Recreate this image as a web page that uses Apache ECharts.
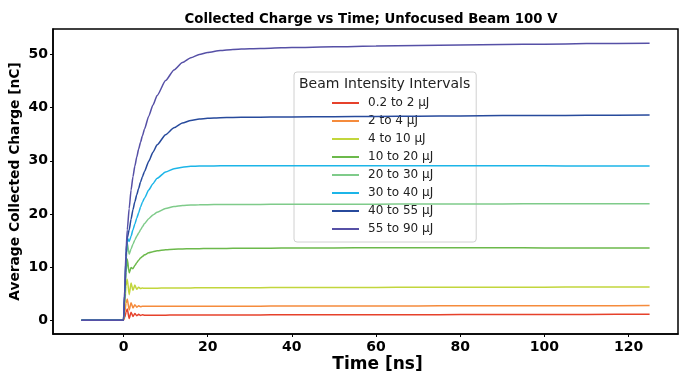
<!DOCTYPE html>
<html>
<head>
<meta charset="utf-8">
<script src="https://cdn.jsdelivr.net/npm/echarts@6/dist/echarts.min.js"></script>
<style>html,body{margin:0;padding:0;background:#fff;}#c{width:682px;height:373px;}</style>
</head>
<body>
<div id="c"></div>
<script>
// ---- data ----
const times = [-10, 0, 0.3, 0.6, 0.9, 1.35, 1.8, 2.25, 2.7, 3.15, 3.6, 4.05, 4.5, 5, 6, 7, 8, 10, 12, 14, 16, 18, 20, 23, 26, 30, 35, 40, 50, 60, 70, 80, 90, 100, 110, 125];
const seriesNames = ['0.2 to 2 μJ', '2 to 4 μJ', '4 to 10 μJ', '10 to 20 μJ', '20 to 30 μJ', '30 to 40 μJ', '40 to 55 μJ', '55 to 90 μJ'];
const v_02_2 = [0, 0, 0.5, 1.5, 2.1, 0.3, 1.5, 0.7, 1.25, 0.85, 1.1, 0.9, 1.0, 0.95, 0.95, 0.95, 0.95, 0.95, 0.96, 0.96, 0.97, 0.97, 0.97, 0.98, 0.98, 0.99, 1.0, 1.0, 1.02, 1.03, 1.04, 1.05, 1.06, 1.08, 1.09, 1.1];
const v_2_4 = [0, 0, 1.5, 3.2, 4.0, 1.9, 3.3, 2.3, 2.9, 2.45, 2.7, 2.55, 2.62, 2.6, 2.6, 2.6, 2.6, 2.6, 2.61, 2.61, 2.62, 2.62, 2.62, 2.63, 2.63, 2.64, 2.65, 2.66, 2.67, 2.68, 2.69, 2.7, 2.71, 2.72, 2.73, 2.75];
const v_4_10 = [0, 0, 3, 6.5, 7.7, 4.8, 7.0, 5.6, 6.6, 5.8, 6.2, 5.95, 6.05, 6.0, 6.0, 6.02, 6.03, 6.05, 6.06, 6.07, 6.08, 6.09, 6.1, 6.1, 6.11, 6.12, 6.13, 6.14, 6.15, 6.17, 6.18, 6.19, 6.2, 6.22, 6.23, 6.25];
const v_10_20 = [0, 0, 4, 9, 11.5, 8.9, 9.9, 9.7, 10.3, 10.8, 11.3, 11.7, 12.0, 12.3, 12.7, 12.9, 13.05, 13.25, 13.35, 13.4, 13.45, 13.45, 13.5, 13.5, 13.52, 13.55, 13.55, 13.6, 13.6, 13.62, 13.62, 13.65, 13.62, 13.6, 13.6, 13.6];
const v_20_30 = [0, 0, 5, 11, 14.5, 12.4, 13.4, 14.3, 15.1, 15.8, 16.4, 17.0, 17.6, 18.2, 19.1, 19.8, 20.3, 21.0, 21.4, 21.6, 21.68, 21.72, 21.74, 21.76, 21.77, 21.78, 21.8, 21.8, 21.82, 21.84, 21.85, 21.86, 21.88, 21.9, 21.9, 21.9];
const v_30_40 = [0, 0, 5, 12, 15.5, 14.8, 15.8, 17.0, 18.1, 19.2, 20.2, 21.3, 22.2, 23.0, 24.5, 25.7, 26.7, 27.9, 28.5, 28.8, 28.95, 29.0, 29.03, 29.05, 29.05, 29.05, 29.05, 29.05, 29.05, 29.06, 29.06, 29.06, 29.05, 29.05, 29.03, 29.0];
const v_40_55 = [0, 0, 5, 12, 15.5, 17.0, 19.0, 20.8, 22.3, 23.6, 24.8, 26.0, 27.0, 28.0, 29.9, 31.6, 33.0, 34.9, 36.2, 37.1, 37.6, 37.85, 38.0, 38.1, 38.15, 38.2, 38.22, 38.25, 38.3, 38.35, 38.4, 38.45, 38.5, 38.5, 38.55, 38.6];
const v_55_90 = [0, 0, 6, 13, 17, 21, 24.5, 27, 29, 30.7, 32.2, 33.5, 34.7, 36.0, 38.4, 40.5, 42.3, 45.1, 47.1, 48.5, 49.4, 50.0, 50.4, 50.75, 50.95, 51.1, 51.2, 51.3, 51.45, 51.6, 51.7, 51.8, 51.9, 51.95, 52.05, 52.1];
const xTicks = [0, 20, 40, 60, 80, 100, 120];
const yTicks = [0, 10, 20, 30, 40, 50];
const colors = ['#e6412b', '#f58b3c', '#c2d63c', '#6cb94b', '#7fcb8a', '#1cb5e8', '#274a9c', '#5650a6'];
const allValues = [v_02_2, v_2_4, v_4_10, v_10_20, v_20_30, v_30_40, v_40_55, v_55_90];

const FONT = '"DejaVu Sans", sans-serif';
const chart = echarts.init(document.getElementById('c'), null, {renderer: 'canvas'});
const series = allValues.map((vals, i) => ({
  name: seriesNames[i],
  type: 'line',
  showSymbol: false,
  symbol: 'none',
  smooth: 0.2,
  smoothMonotone: 'x',
  lineStyle: {width: 1.5, color: colors[i]},
  itemStyle: {color: colors[i]},
  z: 2 + i,
  data: times.map((t, k) => [t, vals[k]])
}));

chart.setOption({
  animation: false,
  backgroundColor: '#fff',
  title: [
    {text: 'Collected Charge vs Time; Unfocused Beam 100 V', left: 366, top: 8, textAlign: 'center',
     textStyle: {fontFamily: FONT, fontWeight: 'bold', fontSize: 13.3, color: '#000'}},
    {text: 'Beam Intensity Intervals', left: 294, top: 72, z: 10,
     textStyle: {fontFamily: FONT, fontWeight: 'normal', fontSize: 14, color: '#222'}}
  ],
  grid: {left: 53, right: 4, top: 29, bottom: 39, outerBoundsMode: 'none', containLabel: false,
         show: true, borderColor: '#000', borderWidth: 1.5, backgroundColor: 'transparent'},
  legend: {
    orient: 'vertical', left: 294, top: 72,
    padding: [24, 43, 6, 38],
    itemWidth: 27, itemHeight: 2, itemGap: 4, icon: 'rect',
    backgroundColor: 'rgba(255,255,255,0.8)', borderColor: '#d0d0d0', borderWidth: 1, borderRadius: 3,
    textStyle: {fontFamily: FONT, fontSize: 12, color: '#222', lineHeight: 14, padding: [0, 0, 0, 4]},
    data: seriesNames
  },
  xAxis: {
    type: 'value', min: -16.75, max: 131.75,
    name: 'Time [ns]', nameLocation: 'middle', nameGap: 22, nameMoveOverlap: false,
    nameTextStyle: {fontFamily: FONT, fontWeight: 'bold', fontSize: 17, color: '#000', padding: [0, 0, 0, 24]},
    axisLine: {show: true, onZero: false, lineStyle: {color: '#000', width: 1.5}},
    axisTick: {show: true, length: 3, customValues: xTicks, lineStyle: {color: '#000'}},
    axisLabel: {customValues: xTicks, fontFamily: FONT, fontWeight: 'bold', fontSize: 14, color: '#000', margin: 6},
    splitLine: {show: false}
  },
  yAxis: {
    type: 'value', min: -2.6, max: 54.8,
    name: 'Average Collected Charge [nC]', nameLocation: 'middle', nameGap: 31, nameMoveOverlap: false,
    nameTextStyle: {fontFamily: FONT, fontWeight: 'bold', fontSize: 13.8, color: '#000'},
    axisLine: {show: true, onZero: false, lineStyle: {color: '#000', width: 1.5}},
    axisTick: {show: true, length: 3, customValues: yTicks, lineStyle: {color: '#000'}},
    axisLabel: {customValues: yTicks, fontFamily: FONT, fontWeight: 'bold', fontSize: 14, color: '#000', margin: 5},
    splitLine: {show: false}
  },
  series: series
});
</script>
</body>
</html>
